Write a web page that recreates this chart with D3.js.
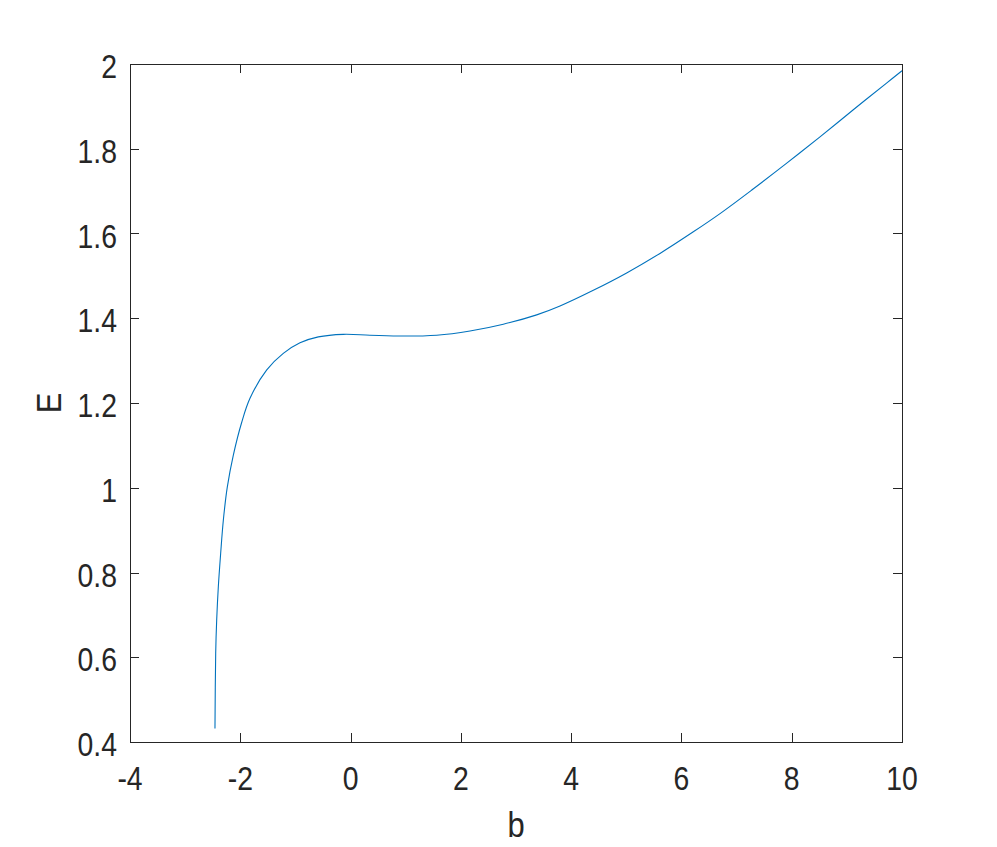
<!DOCTYPE html>
<html>
<head>
<meta charset="utf-8">
<script src="https://cdn.jsdelivr.net/npm/d3@7"></script>
<style>
  html, body { margin: 0; padding: 0; background: #fff; }
  svg text { font-family: "Liberation Sans", Arial, Helvetica, sans-serif; fill: #262626; }
</style>
</head>
<body>
<svg id="chart" width="997" height="847"></svg>
<script>
// Data
const bValues = [-2.459, -2.446, -2.428, -2.398, -2.356, -2.307, -2.235, -2.126, -1.975, -1.824, -1.52, -1.22, -0.917, -0.585, -0.132, 0.352, 0.957, 1.562, 2.166, 2.770, 3.375, 3.798, 4.402, 5.007, 5.611, 6.216, 6.70, 7.30, 7.91, 8.513, 9.117, 9.72, 10.0];
const eValues = [0.432, 0.609, 0.688, 0.767, 0.845, 0.924, 1.002, 1.077, 1.154, 1.211, 1.278, 1.317, 1.342, 1.356, 1.362, 1.360, 1.358, 1.360, 1.370, 1.386, 1.408, 1.429, 1.466, 1.507, 1.553, 1.604, 1.647, 1.705, 1.766, 1.828, 1.892, 1.955, 1.984];
const xTicks = [-4, -2, 0, 2, 4, 6, 8, 10];
const yTicks = [0.4, 0.6, 0.8, 1, 1.2, 1.4, 1.6, 1.8, 2];
const xLabel = "b";
const yLabel = "E";

const svg = d3.select("#chart");
const mLeft = 130, mRight = 902, mTop = 64, mBottom = 742;
const x = d3.scaleLinear().domain([-4, 10]).range([mLeft, mRight]);
const y = d3.scaleLinear().domain([0.4, 2]).range([mBottom, mTop]);
const axisColor = "#262626";
const tickLen = 9;
const squeeze = 0.86;

// Box
svg.append("rect")
  .attr("x", mLeft + 0.5).attr("y", mTop + 0.5)
  .attr("width", mRight - mLeft).attr("height", mBottom - mTop)
  .attr("fill", "none").attr("stroke", axisColor).attr("stroke-width", 1);

// Ticks (inward, mirrored)
const g = svg.append("g").attr("stroke", axisColor).attr("stroke-width", 1);
xTicks.forEach(t => {
  const px = Math.round(x(t)) + 0.5;
  g.append("line").attr("x1", px).attr("x2", px).attr("y1", mBottom).attr("y2", mBottom - tickLen);
  g.append("line").attr("x1", px).attr("x2", px).attr("y1", mTop).attr("y2", mTop + tickLen);
});
yTicks.forEach(t => {
  const py = Math.round(y(t)) + 0.5;
  g.append("line").attr("x1", mLeft).attr("x2", mLeft + tickLen).attr("y1", py).attr("y2", py);
  g.append("line").attr("x1", mRight).attr("x2", mRight - tickLen).attr("y1", py).attr("y2", py);
});

// Tick labels
svg.append("g").selectAll("text").data(xTicks).join("text")
  .attr("transform", d => `translate(${x(d)},790) scale(${squeeze},1)`)
  .attr("text-anchor", "middle")
  .attr("font-size", 33)
  .text(d => d);
svg.append("g").selectAll("text").data(yTicks).join("text")
  .attr("transform", d => `translate(117,${y(d) + 14}) scale(${squeeze},1)`)
  .attr("text-anchor", "end")
  .attr("font-size", 33)
  .text(d => d);

// Axis labels
svg.append("text")
  .attr("transform", `translate(${(mLeft + mRight) / 2},837) scale(${squeeze},1)`)
  .attr("text-anchor", "middle").attr("font-size", 36).text(xLabel);
svg.append("text")
  .attr("transform", `translate(61, ${(mTop + mBottom) / 2}) rotate(-90) scale(${squeeze},1)`)
  .attr("text-anchor", "middle").attr("font-size", 36).text(yLabel);

// Line
const pts = bValues.map((b, i) => [b, eValues[i]]);
svg.append("path")
  .datum(pts)
  .attr("fill", "none")
  .attr("stroke", "#0072BD")
  .attr("stroke-width", 1.1)
  .attr("d", d3.line().x(d => x(d[0])).y(d => y(d[1])).curve(d3.curveCatmullRom.alpha(0.5)));
</script>
</body>
</html>
